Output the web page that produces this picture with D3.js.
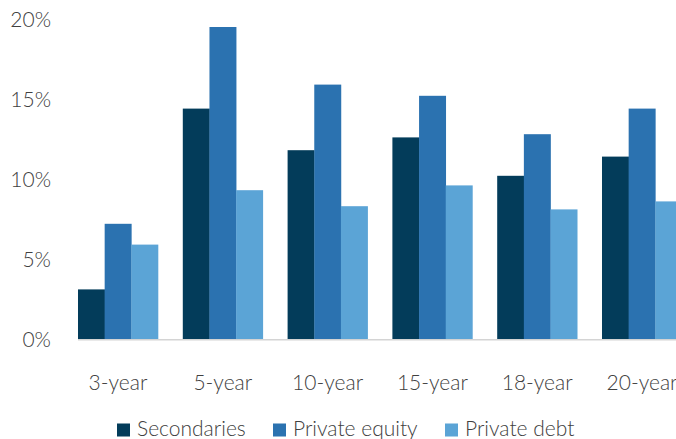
<!DOCTYPE html>
<html>
<head>
<meta charset="utf-8">
<script src="https://cdn.jsdelivr.net/npm/d3@7"></script>
<style>
  html, body { margin: 0; padding: 0; background: #ffffff; }
  svg { display: block; font-family: Lato, "Open Sans", sans-serif; }
</style>
</head>
<body>
<svg id="chart" width="676" height="439"></svg>
<script>
// Annualised returns by horizon
const categories = ["3-year", "5-year", "10-year", "15-year", "18-year", "20-year"];
const secondaries = [3.1, 14.4, 11.8, 12.6, 10.2, 11.4];
const privateEquity = [7.2, 19.5, 15.9, 15.2, 12.8, 14.4];
const privateDebt = [5.9, 9.3, 8.3, 9.6, 8.1, 8.6];
const seriesNames = ["Secondaries", "Private equity", "Private debt"];
const seriesColors = ["#033c5a", "#2b72b0", "#5ba4d6"];
const yTicks = [0, 5, 10, 15, 20];

const seriesValues = [secondaries, privateEquity, privateDebt];
const rows = categories.map((c, i) => ({
  category: c,
  values: seriesNames.map((s, j) => ({ key: s, value: seriesValues[j][i] }))
}));

const svg = d3.select("#chart");
const textColor = "#404040";
const fontSize = 21;

const x = d3.scaleBand()
  .domain(categories)
  .range([65.6, 694.4])
  .paddingInner(0.2366)
  .paddingOuter(0.1183);

const xSeries = d3.scaleBand()
  .domain(seriesNames)
  .range([0, x.bandwidth()]);

const y = d3.scaleLinear().domain([0, 20]).range([339, 19]);

const color = d3.scaleOrdinal().domain(seriesNames).range(seriesColors);

// y tick labels
svg.append("g")
  .selectAll("text")
  .data(yTicks)
  .join("text")
  .attr("x", 51)
  .attr("y", d => y(d))
  .attr("dy", "0.36em")
  .attr("text-anchor", "end")
  .attr("font-size", fontSize)
  .attr("font-weight", 300)
  .attr("fill", textColor)
  .text(d => d + "%");

// bars
const groups = svg.append("g")
  .selectAll("g")
  .data(rows)
  .join("g")
  .attr("transform", d => `translate(${x(d.category)},0)`);

groups.selectAll("rect")
  .data(d => d.values)
  .join("rect")
  .attr("x", d => xSeries(d.key))
  .attr("width", xSeries.bandwidth() + 0.3)
  .attr("y", d => y(d.value))
  .attr("height", d => y(0) - y(d.value))
  .attr("fill", d => color(d.key));

// baseline
svg.append("line")
  .attr("x1", x(categories[0]))
  .attr("x2", 676)
  .attr("y1", y(0) + 0.75)
  .attr("y2", y(0) + 0.75)
  .attr("stroke", "#d4d4d4")
  .attr("stroke-width", 1.5);

// category labels
svg.append("g")
  .selectAll("text")
  .data(categories)
  .join("text")
  .attr("x", d => x(d) + x.bandwidth() / 2)
  .attr("y", 390)
  .attr("text-anchor", "middle")
  .attr("font-size", fontSize)
  .attr("font-weight", 300)
  .attr("fill", textColor)
  .text(d => d);

// legend
const legendX = [117, 273, 445];
const legend = svg.append("g")
  .selectAll("g")
  .data(seriesNames)
  .join("g")
  .attr("transform", (d, i) => `translate(${legendX[i]},0)`);

legend.append("rect")
  .attr("x", 0)
  .attr("y", 423.5)
  .attr("width", 13)
  .attr("height", 13)
  .attr("fill", d => color(d));

legend.append("text")
  .attr("x", 20)
  .attr("y", 436)
  .attr("font-size", fontSize)
  .attr("font-weight", 300)
  .attr("fill", textColor)
  .text(d => d);
</script>
</body>
</html>
